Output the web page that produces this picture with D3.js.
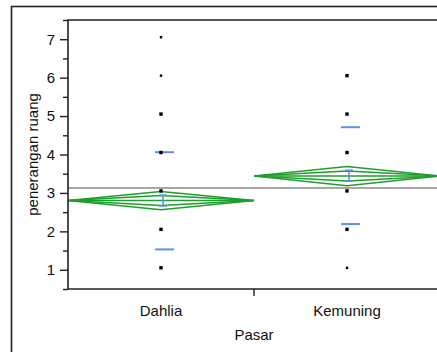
<!DOCTYPE html>
<html><head><meta charset="utf-8">
<script src="https://cdn.jsdelivr.net/npm/d3@7"></script>
<style>body{margin:0;background:#fff}svg{display:block}</style>
</head><body>
<svg id="c" width="437" height="352"></svg>
<script>
const categories = ["Dahlia", "Kemuning"];
const pointValues = [[1, 2, 3, 4, 5, 6, 7], [1, 2, 3, 4, 5, 6]];
const pointCounts = [[3, 3, 3, 3, 3, 1, 1], [1, 3, 3, 3, 3, 3]];
const means = [2.80, 3.44];
const ciLow = [2.56, 3.19];
const ciHigh = [3.04, 3.69];
const overlapLow = [2.67, 3.31];
const overlapHigh = [2.93, 3.57];
const seLow = [2.66, 3.31];
const seHigh = [2.94, 3.59];
const sdLow = [1.53, 2.19];
const sdHigh = [4.06, 4.71];
const grandMean = 3.13;
const yMajorTicks = [1, 2, 3, 4, 5, 6, 7];
const yMinorTicks = [0.5, 1.5, 2.5, 3.5, 4.5, 5.5, 6.5, 7.5];

const svg = d3.select("#c");
const font = "'Liberation Sans', Arial, sans-serif";
const green = "#1e9e2c", blue = "#5b90f0";
const L = 68, R = 440, T = 20, B = 289;

const x = d3.scaleBand().domain(categories).range([L, R]).padding(0);
const y = d3.scaleLinear().domain([0.5, 7.5]).range([B, T]);

// outer frame
svg.append("rect").attr("x", 11.5).attr("y", 6.5).attr("width", 500).attr("height", 500)
  .attr("fill", "none").attr("stroke", "#222").attr("stroke-width", 1.6);

// y axis
const yMinor = svg.append("g").attr("transform", `translate(${L},0)`)
  .call(d3.axisLeft(y).tickValues(yMinorTicks).tickSize(5).tickFormat(""));
const yMajor = svg.append("g").attr("transform", `translate(${L},0)`)
  .call(d3.axisLeft(y).tickValues(yMajorTicks).tickSize(8).tickPadding(5).tickFormat(d3.format("d")));
[yMinor, yMajor].forEach(g => {
  g.select(".domain").remove();
  g.selectAll("line").attr("stroke", "#222").attr("stroke-width", 1.4);
  g.selectAll("text").attr("font-family", font).attr("font-size", 15).attr("fill", "#111");
});

// x axis labels
const xAxis = svg.append("g").attr("transform", `translate(0,${B})`)
  .call(d3.axisBottom(x).tickSize(0).tickPadding(16));
xAxis.select(".domain").remove();
xAxis.selectAll("text").attr("font-family", font).attr("font-size", 15).attr("fill", "#111");
// separator tick between categories
svg.append("line").attr("x1", x("Kemuning")).attr("x2", x("Kemuning"))
  .attr("y1", B).attr("y2", B + 7).attr("stroke", "#222").attr("stroke-width", 1.4);

// grand mean
svg.append("line").attr("x1", L).attr("x2", R).attr("y1", y(grandMean)).attr("y2", y(grandMean))
  .attr("stroke", "#8a8a8a").attr("stroke-width", 1.5);

// diamonds
categories.forEach((c, i) => {
  const x0 = x(c), x1 = x(c) + x.bandwidth(), xm = x(c) + x.bandwidth() / 2;
  const g = svg.append("g").attr("fill", "none").attr("stroke", green).attr("stroke-width", 1.5);
  g.append("path").attr("d", `M${x0},${y(means[i])}L${xm},${y(ciHigh[i])}L${x1},${y(means[i])}L${xm},${y(ciLow[i])}Z`);
  g.append("path").attr("d", `M${x0},${y(means[i])}L${xm},${y(overlapHigh[i])}L${x1},${y(means[i])}L${xm},${y(overlapLow[i])}Z`);
  g.append("line").attr("x1", x0).attr("x2", x1).attr("y1", y(means[i])).attr("y2", y(means[i]));
});

// std dev lines and std error bars
categories.forEach((c, i) => {
  const xm = x(c) + x.bandwidth() / 2;
  const g = svg.append("g").attr("stroke", blue).attr("fill", "none");
  [sdLow[i], sdHigh[i]].forEach(v => {
    g.append("line").attr("x1", xm - 6).attr("x2", xm + 13).attr("y1", y(v)).attr("y2", y(v)).attr("stroke-width", 2);
  });
  const ex = xm + 2;
  g.append("line").attr("x1", ex).attr("x2", ex).attr("y1", y(seLow[i])).attr("y2", y(seHigh[i])).attr("stroke-width", 1.6);
  [seLow[i], seHigh[i]].forEach(v => {
    g.append("line").attr("x1", ex - 4).attr("x2", ex + 4).attr("y1", y(v)).attr("y2", y(v)).attr("stroke-width", 1.6);
  });
});

// points
categories.forEach((c, i) => {
  const xm = x(c) + x.bandwidth() / 2;
  pointValues[i].forEach((v, j) => {
    const s = pointCounts[i][j] > 1 ? 3.4 : 2.4;
    svg.append("rect").attr("x", xm - s / 2).attr("y", y(v) - 2 - s / 2)
      .attr("width", s).attr("height", s).attr("fill", "#000");
  });
});

// plot frame
svg.append("path").attr("d", `M${L},${B}L${L},${T}L${R},${T}`).attr("fill", "none")
  .attr("stroke", "#222").attr("stroke-width", 1.6);
svg.append("line").attr("x1", L).attr("x2", R).attr("y1", B).attr("y2", B)
  .attr("stroke", "#222").attr("stroke-width", 1.6);

// titles
svg.append("text").attr("x", (L + 440) / 2).attr("y", 340).attr("text-anchor", "middle")
  .attr("font-family", font).attr("font-size", 15).attr("fill", "#111").text("Pasar");
svg.append("text").attr("transform", `translate(38,${(T + B) / 2}) rotate(-90)`).attr("text-anchor", "middle")
  .attr("font-family", font).attr("font-size", 15).attr("fill", "#111").text("penerangan ruang");
</script>
</body></html>
